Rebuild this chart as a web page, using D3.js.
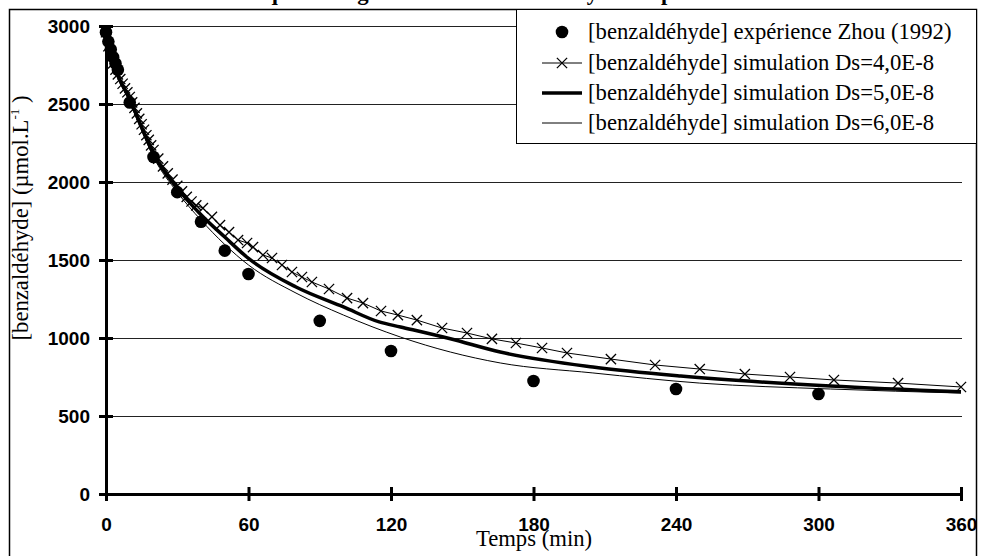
<!DOCTYPE html>
<html>
<head>
<meta charset="utf-8">
<script src="https://cdn.jsdelivr.net/npm/d3@7"></script>
<style>
  body { margin: 0; background: #fff; }
  svg { display: block; }
  .tick-label { font-family: "Liberation Sans", Arial, sans-serif; font-weight: bold; font-size: 19px; fill: #000; }
  .serif { font-family: "Liberation Serif", "Times New Roman", serif; font-size: 22.7px; fill: #000; }
</style>
</head>
<body>
<div id="chart"></div>
<script>
// experimental points (Zhou 1992)
const expTime = [0, 1, 2, 3, 4, 5, 10, 20, 30, 40, 50, 60, 90, 120, 180, 240, 300];
const expConc = [2960, 2900, 2850, 2800, 2760, 2720, 2510, 2160, 1935, 1745, 1560, 1410, 1110, 917, 724, 673, 641];

// simulation Ds=4,0E-8 (crosses)
const sim4Time = [0, 1, 2, 3, 4, 5, 6, 7, 8, 9, 10, 11, 12, 13, 14, 15, 16, 17, 18, 19, 20, 22, 24, 26, 28, 30, 32, 34, 36, 38,
  40.8, 44.6, 48, 51.8, 55.6, 59.4, 61.9, 66.1, 69.9, 74.1, 78.3, 82.5, 86.7, 93.9, 101.5, 108.2, 115.8, 122.9, 130.9, 141.5,
  152, 162.5, 172.6, 183.6, 194.1, 212.6, 231.2, 250, 269, 288, 306.5, 333.5, 360];
const sim4Conc = [2960, 2870, 2800, 2760, 2720, 2690, 2660, 2630, 2600, 2575, 2545, 2510, 2475, 2440, 2405, 2370, 2335, 2300, 2270, 2235, 2205, 2150, 2100, 2055, 2015, 1975, 1940, 1905, 1875, 1850,
  1833, 1776, 1724, 1679, 1628, 1609, 1583, 1532, 1513, 1468, 1423, 1391, 1359, 1314, 1256, 1224, 1173, 1147, 1115, 1064,
  1032, 994, 968, 936, 904, 865, 827, 801, 769, 750, 731, 711, 686];

// simulation Ds=5,0E-8 (thick line)
const sim5Time = [0, 2, 5, 10, 15, 20, 30, 40, 50, 60, 80, 100, 115, 124, 145, 166, 205, 242, 305, 360];
const sim5Conc = [2960, 2800, 2680, 2530, 2350, 2180, 1960, 1790, 1647, 1510, 1327, 1199, 1103, 1071, 995, 910, 814, 756, 692, 655];

// simulation Ds=6,0E-8 (thin line)
const sim6Time = [0, 2, 5, 10, 15, 20, 30, 40, 60, 80, 100, 124, 145, 166, 205, 250, 305, 360];
const sim6Conc = [2960, 2790, 2670, 2510, 2330, 2160, 1935, 1756, 1468, 1288, 1147, 1006, 910, 840, 776, 711, 673, 647];

const xTicks = [0, 60, 120, 180, 240, 300, 360];
const yTicks = [0, 500, 1000, 1500, 2000, 2500, 3000];

const legendLabels = [
  "[benzaldéhyde] expérience Zhou (1992)",
  "[benzaldéhyde] simulation Ds=4,0E-8",
  "[benzaldéhyde] simulation Ds=5,0E-8",
  "[benzaldéhyde] simulation Ds=6,0E-8"
];

const width = 981, height = 556;
const svg = d3.select("#chart").append("svg")
  .attr("width", width)
  .attr("height", height);

const x = d3.scaleLinear().domain([0, 360]).range([106, 961]);
const y = d3.scaleLinear().domain([0, 3000]).range([494, 26]);

// title, cut off by the top of the picture (only descenders show)
svg.append("text")
  .attr("class", "serif")
  .attr("x", 540).attr("y", 0)
  .attr("text-anchor", "middle")
  .style("font-weight", "bold")
  .text("Cinétique de dégradation du benzaldéhyde : expérience et simulation");

// outer frame
svg.append("rect")
  .attr("x", 9.5).attr("y", 9.5)
  .attr("width", 967).attr("height", 600)
  .attr("fill", "none")
  .attr("stroke", "#000")
  .attr("stroke-width", 1.5);

// grid lines
svg.append("g")
  .selectAll("line")
  .data(yTicks.filter(d => d > 0))
  .enter().append("line")
  .attr("x1", x(0)).attr("x2", x(360) + 1)
  .attr("y1", d => Math.round(y(d)) + 0.5)
  .attr("y2", d => Math.round(y(d)) + 0.5)
  .attr("stroke", "#222")
  .attr("stroke-width", 1);

// axes
const xAxis = d3.axisBottom(x).tickValues(xTicks).tickSize(7).tickFormat(d3.format("d"));
const yAxis = d3.axisLeft(y).tickValues(yTicks).tickSize(7).tickFormat(d3.format("d"));

const gx = svg.append("g").attr("transform", `translate(0,${y(0)})`).call(xAxis);
const gy = svg.append("g").attr("transform", `translate(${x(0)},0)`).call(yAxis);

[gx, gy].forEach(g => {
  g.select(".domain").attr("stroke", "#000").attr("stroke-width", 3);
  g.selectAll(".tick line").attr("stroke", "#000").attr("stroke-width", 3);
  g.selectAll(".tick text").attr("class", "tick-label").attr("fill", "#000");
});
// ticks cross the axis
gx.selectAll(".tick line").attr("y1", -7).attr("y2", 7);
gy.selectAll(".tick line").attr("x1", 7).attr("x2", -7);
gx.selectAll(".tick text").attr("y", 24);
gy.selectAll(".tick text").attr("x", -16).attr("dy", "0.36em");

// axis titles
svg.append("text")
  .attr("class", "serif")
  .attr("x", 534).attr("y", 546)
  .attr("text-anchor", "middle")
  .text("Temps (min)");

const yTitle = svg.append("text")
  .attr("class", "serif")
  .attr("transform", "translate(28,218) rotate(-90)")
  .attr("text-anchor", "middle");
yTitle.append("tspan").text("[benzaldéhyde] (µmol.L");
yTitle.append("tspan").attr("dy", -9).style("font-size", "13px").text("-1");
yTitle.append("tspan").attr("dy", 9).text(" )");

const line = d3.line().x(d => x(d[0])).y(d => y(d[1]));
const pairs = (t, c) => t.map((d, i) => [d, c[i]]);

const plot = svg.append("g");

plot.append("path")
  .datum(pairs(sim6Time, sim6Conc))
  .attr("d", line.curve(d3.curveMonotoneX))
  .attr("fill", "none").attr("stroke", "#000").attr("stroke-width", 1);

plot.append("path")
  .datum(pairs(sim5Time, sim5Conc))
  .attr("d", line.curve(d3.curveMonotoneX))
  .attr("fill", "none").attr("stroke", "#000").attr("stroke-width", 3.5);

const sim4 = pairs(sim4Time, sim4Conc);
plot.append("path")
  .datum(sim4)
  .attr("d", line.curve(d3.curveLinear))
  .attr("fill", "none").attr("stroke", "#000").attr("stroke-width", 1);

const cross = d3.symbol().type(d3.symbolX).size(70);
plot.selectAll(".cross")
  .data(sim4)
  .enter().append("path")
  .attr("class", "cross")
  .attr("transform", d => `translate(${x(d[0])},${y(d[1])})`)
  .attr("d", cross)
  .attr("fill", "none").attr("stroke", "#000").attr("stroke-width", 1.3);

plot.selectAll(".dot")
  .data(pairs(expTime, expConc))
  .enter().append("circle")
  .attr("class", "dot")
  .attr("cx", d => x(d[0])).attr("cy", d => y(d[1]))
  .attr("r", 6.3)
  .attr("fill", "#000");

// legend
const legend = svg.append("g");
legend.append("rect")
  .attr("x", 516.5).attr("y", 9.5)
  .attr("width", 460).attr("height", 134)
  .attr("fill", "#fff")
  .attr("stroke", "#000")
  .attr("stroke-width", 1);

const rowY = [32, 63, 93, 123];
legendLabels.forEach((label, i) => {
  const cy = rowY[i];
  if (i === 0) {
    legend.append("circle").attr("cx", 562).attr("cy", cy).attr("r", 6.3).attr("fill", "#000");
  } else {
    legend.append("line")
      .attr("x1", 542).attr("x2", 582).attr("y1", cy).attr("y2", cy)
      .attr("stroke", "#000").attr("stroke-width", [0, 1, 3.5, 1][i]);
    if (i === 1) {
      legend.append("path")
        .attr("transform", `translate(562,${cy})`)
        .attr("d", cross)
        .attr("fill", "none").attr("stroke", "#000").attr("stroke-width", 1.3);
    }
  }
  legend.append("text")
    .attr("class", "serif")
    .attr("x", 588).attr("y", cy + 7)
    .text(label);
});
</script>
</body>
</html>
